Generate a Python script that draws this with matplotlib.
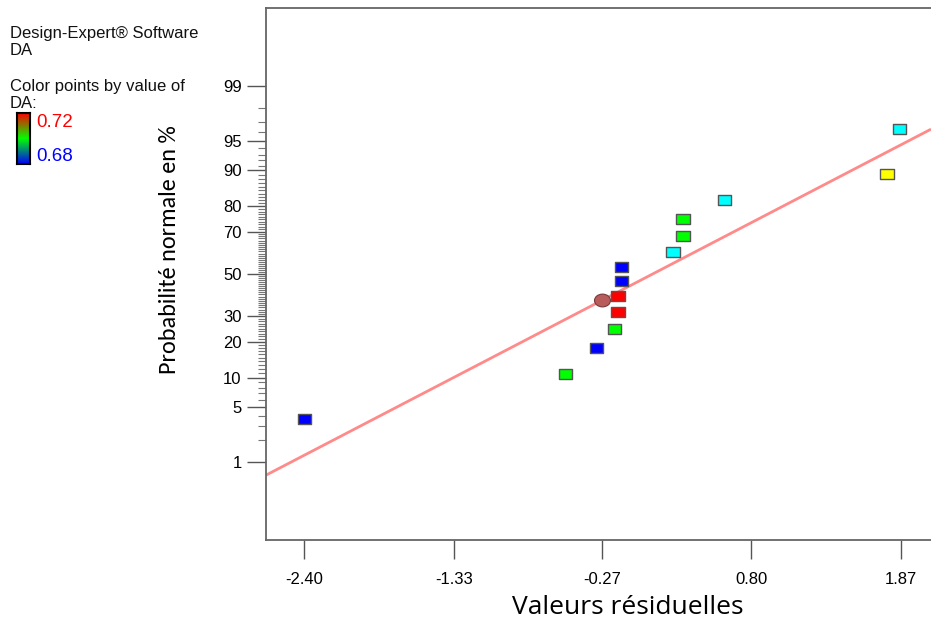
import numpy as np
import matplotlib
matplotlib.use("Agg")
import matplotlib.pyplot as plt
from matplotlib import font_manager
from matplotlib.colors import ListedColormap, LinearSegmentedColormap, Normalize
from matplotlib.path import Path
from matplotlib.ticker import FixedLocator, FixedFormatter, NullFormatter
from statistics import NormalDist

# ---- data ---------------------------------------------------------------
residuals = [-2.40, -0.53, -0.31, -0.18, -0.155, -0.155, -0.13, -0.13,
             0.24, 0.31, 0.31, 0.61, 1.77, 1.86]
prob_pct = [3.6, 10.7, 17.9, 25.0, 32.1, 39.3, 46.4, 53.6,
            60.7, 67.9, 75.0, 82.1, 89.3, 96.4]
da_values = [0.68, 0.70, 0.68, 0.70, 0.72, 0.72, 0.68, 0.68,
             0.69, 0.70, 0.70, 0.69, 0.71, 0.69]

highlight_x = [-0.27]
highlight_pct = [37.4]

fit_x = [-2.674, 2.086]
fit_pct = [0.642, 96.34]

x_ticks = [-2.40, -1.33, -0.27, 0.80, 1.87]
x_tick_labels = ["-2.40", "-1.33", "-0.27", "0.80", "1.87"]
y_ticks = [1, 5, 10, 20, 30, 50, 70, 80, 90, 95, 99]
y_minor = [p for p in range(2, 99) if p not in y_ticks]

da_min, da_max = 0.68, 0.72

# ---- fonts --------------------------------------------------------------
available = {f.name for f in font_manager.fontManager.ttflist}
tick_font = "Liberation Sans Narrow" if "Liberation Sans Narrow" in available else "Liberation Sans"
ylabel_font = "Carlito" if "Carlito" in available else "Lato"
xlabel_font = "Open Sans"

# ---- normal probability scale --------------------------------------------
_nd = NormalDist()
_eps = 1e-9


def pct_to_z(p):
    p = np.asarray(p, dtype=float)
    q = np.clip(p / 100.0, _eps, 1 - _eps)
    out = np.array([_nd.inv_cdf(v) if np.isfinite(v) else np.nan
                    for v in q.ravel()]).reshape(q.shape)
    return out


def z_to_pct(z):
    z = np.asarray(z, dtype=float)
    out = np.array([_nd.cdf(v) * 100.0 if np.isfinite(v) else np.nan
                    for v in z.ravel()]).reshape(z.shape)
    return out


# ---- figure ---------------------------------------------------------------
W, H = 931, 619
fig = plt.figure(figsize=(W / 100, H / 100), dpi=100)
ax = fig.add_axes([266 / W, (H - 540) / H, 1 - 266 / W, (540 - 8) / H])

ax.set_yscale("function", functions=(pct_to_z, z_to_pct))
ax.set_ylim(0.05, 99.95)
ax.set_xlim(-2.674, 2.086)

# fitted normal line
ax.plot(fit_x, fit_pct, color="#FF8A8A", lw=2.0, zorder=2, solid_capstyle="butt")

# rectangular markers (a bit wider than tall)
rect = Path([(-1, -0.75), (1, -0.75), (1, 0.75), (-1, 0.75), (-1, -0.75)],
            [Path.MOVETO, Path.LINETO, Path.LINETO, Path.LINETO, Path.CLOSEPOLY])
pt_cmap = ListedColormap(["#0000FF", "#00FFFF", "#00FF00", "#FFFF00", "#FF0000"])
pt_norm = Normalize(da_min - 0.005, da_max + 0.005)
ax.scatter(residuals, prob_pct, c=da_values, cmap=pt_cmap, norm=pt_norm,
           marker=rect, s=9.6 ** 2, edgecolors="#555555", linewidths=1.0, zorder=3)

# highlighted point on the line
ell = Path.unit_circle()
ell = Path(ell.vertices * np.array([1.0, 0.8]), ell.codes)
ax.scatter(highlight_x, highlight_pct, marker=ell, s=11.5 ** 2,
           color="#B85C5C", edgecolors="#7A3A3A", linewidths=0.8, zorder=4)

# axes styling
ax.spines["right"].set_visible(False)
for side in ("left", "bottom", "top"):
    ax.spines[side].set_color("#666666")
    ax.spines[side].set_linewidth(1.3)

ax.yaxis.set_major_locator(FixedLocator(y_ticks))
ax.yaxis.set_major_formatter(FixedFormatter([str(v) for v in y_ticks]))
ax.yaxis.set_minor_locator(FixedLocator(y_minor))
ax.yaxis.set_minor_formatter(NullFormatter())
ax.xaxis.set_major_locator(FixedLocator(x_ticks))
ax.xaxis.set_major_formatter(FixedFormatter(x_tick_labels))

ax.tick_params(axis="y", which="major", direction="out", length=13.5, width=1.0,
               color="#555555", pad=4, labelsize=12)
ax.tick_params(axis="y", which="minor", direction="out", length=5.5, width=0.8,
               color="#777777")
ax.tick_params(axis="x", which="major", direction="out", length=14, width=1.0,
               color="#555555", pad=9, labelsize=12)
for lab in ax.get_xticklabels() + ax.get_yticklabels():
    lab.set_fontfamily(tick_font)

ax.set_xlabel("Valeurs résiduelles", fontsize=19, family=xlabel_font)
ax.xaxis.set_label_coords((628 - 266) / 665, -(607 - 540) / 532)
ax.xaxis.label.set_va("center")
ax.set_ylabel("Probabilité normale en %", fontsize=17.5, family=ylabel_font)
ax.yaxis.set_label_coords((170 - 266) / 665, (540 - 250) / 532)
ax.yaxis.label.set_va("center")

# ---- side legend ------------------------------------------------------------
txt = dict(fontsize=12, family="Liberation Sans", color="#111111", va="baseline")
fig.text(10 / W, 1 - 38 / H, "Design-Expert® Software", **txt)
fig.text(10 / W, 1 - 55 / H, "DA", **txt)
fig.text(10 / W, 1 - 91 / H, "Color points by value of", **txt)
fig.text(10 / W, 1 - 108 / H, "DA:", **txt)

cax = fig.add_axes([17 / W, (H - 164) / H, 13 / W, 51 / H])
bar_cmap = LinearSegmentedColormap.from_list("da", ["#0000FF", "#00FF00", "#FF0000"])
grad = np.linspace(da_min, da_max, 128).reshape(-1, 1)
cax.imshow(grad, aspect="auto", cmap=bar_cmap, origin="lower",
           extent=[0, 1, da_min, da_max])
cax.set_xticks([])
cax.set_yticks([])
for s in cax.spines.values():
    s.set_linewidth(1.5)
    s.set_color("black")

fig.text(36 / W, 1 - 127 / H, f"{da_max:.2f}", fontsize=13.5, family="Liberation Sans",
         color="#FF0000", va="baseline")
fig.text(36 / W, 1 - 161 / H, f"{da_min:.2f}", fontsize=13.5, family="Liberation Sans",
         color="#0000FF", va="baseline")

fig.savefig("out.png", dpi=100)
